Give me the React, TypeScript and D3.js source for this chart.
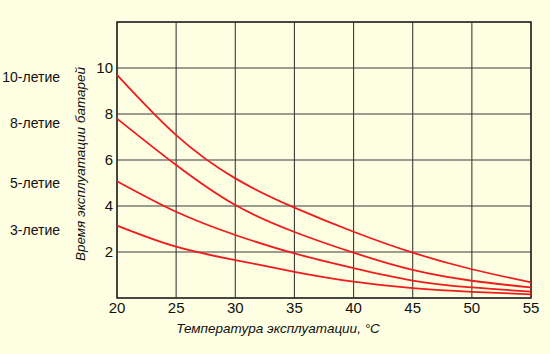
import { useEffect, useRef } from 'react';
import * as d3 from 'd3';

const temps = [20, 25, 30, 35, 40, 45, 50, 55];
const life10 = [9.7, 7.08, 5.2, 3.93, 2.88, 1.97, 1.25, 0.68];
const life8 = [7.8, 5.78, 4.04, 2.87, 1.97, 1.22, 0.75, 0.46];
const life5 = [5.08, 3.75, 2.74, 1.94, 1.3, 0.76, 0.46, 0.28];
const life3 = [3.15, 2.23, 1.65, 1.14, 0.71, 0.43, 0.27, 0.16];
const yTicks = [2, 4, 6, 8, 10];
const legendLabels = ['10-летие', '8-летие', '5-летие', '3-летие'];
const legendValues = [9.6, 7.6, 5.0, 2.95];

const App = () => {
  const svgRef = useRef<SVGSVGElement>(null);

  useEffect(() => {
    if (!svgRef.current) return;
    const svg = d3.select(svgRef.current);
    svg.selectAll('*').remove();

    const width = 550;
    const height = 354;
    const font = '"Liberation Sans", Arial, sans-serif';

    svg.append('rect').attr('width', width).attr('height', height).attr('fill', '#fefee2');

    const x = d3.scaleLinear().domain([20, 55]).range([117, 531]);
    const y = d3.scaleLinear().domain([0, 12]).range([298, 22]);

    const g = svg.append('g');

    // grid
    d3.range(20, 56, 5).forEach(t => {
      g.append('line')
        .attr('x1', x(t)).attr('x2', x(t))
        .attr('y1', y(0)).attr('y2', y(12))
        .attr('stroke', '#3d3d3d').attr('stroke-width', 1.1);
    });
    d3.range(0, 13, 2).forEach(v => {
      g.append('line')
        .attr('x1', x(20)).attr('x2', x(55))
        .attr('y1', y(v)).attr('y2', y(v))
        .attr('stroke', '#3d3d3d').attr('stroke-width', 1.1);
    });
    g.append('rect')
      .attr('x', x(20)).attr('y', y(12))
      .attr('width', x(55) - x(20)).attr('height', y(0) - y(12))
      .attr('fill', 'none').attr('stroke', '#2a2a2a').attr('stroke-width', 1.5);

    // curves
    const line = d3.line<number>()
      .x((_, i) => x(temps[i]))
      .y(d => y(d))
      .curve(d3.curveNatural);
    [life10, life8, life5, life3].forEach(series => {
      g.append('path')
        .attr('d', line(series))
        .attr('fill', 'none')
        .attr('stroke', '#ee1c1c')
        .attr('stroke-width', 1.8);
    });

    // tick labels
    temps.forEach(t => {
      svg.append('text')
        .attr('x', x(t)).attr('y', 313)
        .attr('text-anchor', 'middle')
        .attr('font-family', font).attr('font-size', 15)
        .attr('fill', '#111')
        .text(t);
    });
    yTicks.forEach(v => {
      svg.append('text')
        .attr('x', 113).attr('y', y(v) + 5)
        .attr('text-anchor', 'end')
        .attr('font-family', font).attr('font-size', 15)
        .attr('fill', '#111')
        .text(v);
    });

    // legend labels on the left
    legendLabels.forEach((lbl, i) => {
      svg.append('text')
        .attr('x', 60).attr('y', y(legendValues[i]) + 5)
        .attr('text-anchor', 'end')
        .attr('font-family', font).attr('font-size', 14)
        .attr('fill', '#111')
        .text(lbl);
    });

    // axis titles
    svg.append('text')
      .attr('transform', `translate(85,164) rotate(-90)`)
      .attr('text-anchor', 'middle')
      .attr('font-family', font).attr('font-size', 13.5)
      .attr('font-style', 'italic')
      .attr('fill', '#111')
      .text('Время эксплуатации батарей');
    svg.append('text')
      .attr('x', 278).attr('y', 333)
      .attr('text-anchor', 'middle')
      .attr('font-family', font).attr('font-size', 13.5)
      .attr('font-style', 'italic')
      .attr('fill', '#111')
      .text('Температура эксплуатации, °C');
  }, []);

  return (
    <svg
      ref={svgRef}
      width={550}
      height={354}
      style={{ position: 'fixed', left: 0, top: 0, display: 'block' }}
    />
  );
};

export default App;
